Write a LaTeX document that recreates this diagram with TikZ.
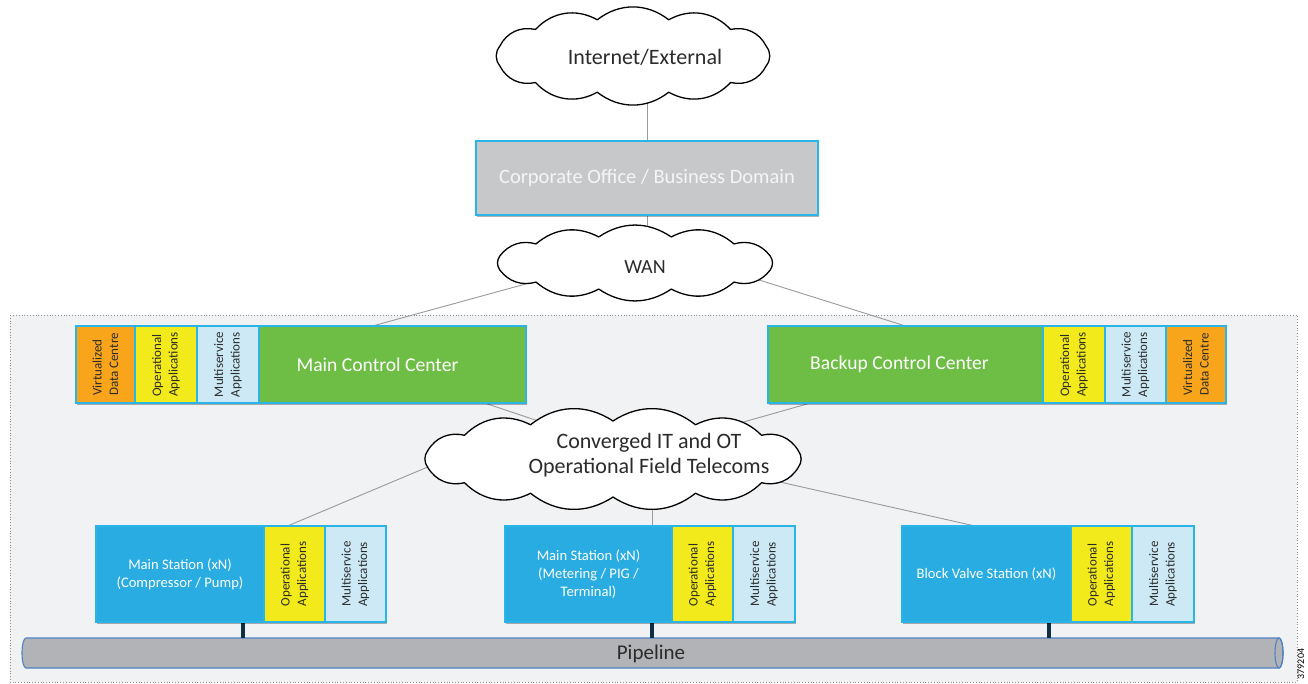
\documentclass[tikz,border=0pt]{standalone}
\usepackage{fontspec}
\setmainfont{Carlito}
\usetikzlibrary{shadows,calc}
\definecolor{bordercyan}{HTML}{2AB5E8}
\definecolor{corpgray}{HTML}{C7C8CA}
\definecolor{vdcorange}{HTML}{F8A51C}
\definecolor{opyellow}{HTML}{F2EA1A}
\definecolor{mslight}{HTML}{CCE9F5}
\definecolor{ccgreen}{HTML}{6EBE46}
\definecolor{stblue}{HTML}{29ACE2}
\definecolor{bgzone}{HTML}{F1F2F4}
\definecolor{pipegray}{HTML}{B2B3B6}
\definecolor{pipeedge}{HTML}{4F82C3}
\definecolor{linkgray}{HTML}{9A9A9A}
\definecolor{postnavy}{HTML}{0E2F44}
\definecolor{txtdark}{HTML}{2B2B2B}
\pgfdeclarelayer{bg}
\pgfdeclarelayer{links}
\pgfsetlayers{bg,links,main}
\tikzset{
  cell/.style={draw=bordercyan, line width=1.2pt, inner sep=0pt, outer sep=0pt, anchor=north west,
    drop shadow={shadow xshift=1.2pt, shadow yshift=-1.8pt, opacity=0.3, fill=black}},
  vtext/.style={rotate=90, align=left, inner sep=0pt, text=txtdark, font=\fontsize{13}{16.5}\selectfont},
  bigwhite/.style={text=white, font=\fontsize{19.6}{24}\selectfont},
  stwhite/.style={text=white, align=center, font=\fontsize{14.6}{18}\selectfont},
  cloudline/.style={draw=black, line width=1.3pt, fill=white, line join=round},
  cloudtext/.style={text=txtdark, align=center, font=\fontsize{22}{25}\selectfont},
  link/.style={draw=linkgray, line width=0.9pt},
  post/.style={draw=postnavy, line width=4.5pt}
}
\newcommand\vcell[5]{%
  \node[cell, fill=#2, minimum width=#4, minimum height=\cellh] (#1) at (#3) {};
  \node[vtext] (#1t) at (#1.center) {#5};}
% cloud: name, centre, x radius, y radius, bumps, bend
\newcommand\cloudat[6]{%
  \node[inner sep=0pt, outer sep=0pt, minimum width=#3*2, minimum height=#4*2] (#1) at (#2) {};
  \pgfmathsetmacro\cstep{360/#5}%
  \path[cloudline] ($(#1.center)+({\cstep/2}:#3pt and #4pt)$)
    \foreach \k in {1,...,#5} { to[bend right=#6] ($(#1.center)+({\cstep/2+\cstep*\k}:#3pt and #4pt)$) } -- cycle;
}
\begin{document}
\begin{tikzpicture}[x=1pt, y=-1pt]
\useasboundingbox (0,0) rectangle (1308,684);
% zone
\begin{pgfonlayer}{bg}
  \fill[white] (0,0) rectangle (1308,684);
  \draw[fill=bgzone, draw=black!45, dotted, line width=0.8pt] (10,315) rectangle (1297,682);
\end{pgfonlayer}

% clouds
\cloudat{inet}{633,56}{138}{37.5}{12}{38}
\node[cloudtext] (inett) at (645,57) {Internet/External};
\cloudat{wan}{635,263}{140}{27}{12}{34}
\node[cloudtext, font=\fontsize{20}{24}\selectfont] (want) at (645,267) {WAN};
\cloudat{conv}{613,459}{190}{38}{14}{36}
\node[cloudtext] (convt) at (649,455) {Converged IT and OT\\Operational Field Telecoms};

% corporate
\node[cell, fill=corpgray, minimum width=342, minimum height=74, text=white!96!black, font=\fontsize{20.5}{24}\selectfont, anchor=center] (corp) at (647,178) {Corporate Office / Business Domain};

% main control center group
\def\cellh{77}
\vcell{mvdc}{vdcorange}{76,326}{59}{Virtualized\\Data Centre}
\vcell{mop}{opyellow}{135,326}{62}{Operational\\Applications}
\vcell{mms}{mslight}{197,326}{62}{Multiservice\\Applications}
\node[cell, fill=ccgreen, minimum width=267, minimum height=77] (mcc) at (259,326) {};
\node[bigwhite] (mcct) at ($(mcc.center)+(-15,0)$) {Main Control Center};

% backup control center group
\node[cell, fill=ccgreen, minimum width=275, minimum height=77] (bcc) at (768,326) {};
\node[bigwhite] (bcct) at ($(bcc.center)+(-6,0)$) {Backup Control Center};
\vcell{bop}{opyellow}{1043,326}{62}{Operational\\Applications}
\vcell{bms}{mslight}{1105,326}{61}{Multiservice\\Applications}
\vcell{bvdc}{vdcorange}{1166,326}{60}{Virtualized\\Data Centre}

% stations
\def\cellh{96}
\node[cell, fill=stblue, minimum width=168, minimum height=96, stwhite] (stA) at (96,526) {Main Station (xN)\\(Compressor / Pump)};
\vcell{aop}{opyellow}{264,526}{61}{Operational\\Applications}
\vcell{ams}{mslight}{325,526}{61}{Multiservice\\Applications}

\node[cell, fill=stblue, minimum width=167, minimum height=96, stwhite] (stB) at (505,526) {Main Station (xN)\\(Metering / PIG /\\Terminal)};
\vcell{bop2}{opyellow}{672,526}{61}{Operational\\Applications}
\vcell{bms2}{mslight}{733,526}{62}{Multiservice\\Applications}

\node[cell, fill=stblue, minimum width=169, minimum height=96, stwhite] (stC) at (902,526) {Block Valve Station (xN)};
\vcell{cop}{opyellow}{1071,526}{61}{Operational\\Applications}
\vcell{cms}{mslight}{1132,526}{62}{Multiservice\\Applications}

% pipeline
\node[minimum width=1253, minimum height=30, inner sep=0pt, outer sep=0pt] (pipe) at (652.5,653) {};
\begin{pgfonlayer}{links}
  \path[fill=pipegray, draw=pipeedge, line width=1.1pt]
    (pipe.north west) -- (pipe.north east)
    arc[start angle=90, end angle=-90, x radius=4pt, y radius=15pt]
    -- (pipe.south west)
    arc[start angle=270, end angle=90, x radius=4pt, y radius=15pt] -- cycle;
  \draw[pipeedge, line width=1.1pt] (pipe.east) ellipse[x radius=4pt, y radius=15pt];
\end{pgfonlayer}
\node[text=txtdark, font=\fontsize{21}{24}\selectfont] (pipet) at (651,654) {Pipeline};

% links
\begin{pgfonlayer}{links}
  \draw[link] (inet.center -| corp.north) -- (corp.north);
  \draw[link] (corp.south) -- (corp.south |- wan.center);
  \draw[link] ([yshift=9pt]wan.center) -- ([xshift=-20pt]mcc.north);
  \draw[link] ([yshift=22pt]wan.center) -- (bcc.north);
  \draw[link] ([xshift=92pt]mcc.south) -- ([yshift=13pt]conv.center);
  \draw[link] ([xshift=-95pt]bcc.south) -- (conv.center);
  \draw[link] ([xshift=-133pt,yshift=14pt]conv.center) -- ([xshift=-7pt]aop.north);
  \draw[link] ([xshift=63.5pt]stB.north |- conv.center) -- ([xshift=63.5pt]stB.north);
  \draw[link] ([xshift=87pt,yshift=-5pt]conv.center) -- ([xshift=-11.5pt]stC.north);
  \draw[post] ([xshift=63pt]stA.south) -- ([xshift=63pt]stA.south |- pipe.north);
  \draw[post] ([xshift=63.5pt]stB.south) -- ([xshift=63.5pt]stB.south |- pipe.north);
  \draw[post] ([xshift=62.5pt]stC.south) -- ([xshift=62.5pt]stC.south |- pipe.north);
\end{pgfonlayer}

% figure number
\node[rotate=90, inner sep=0pt, text=black, font=\fontsize{10}{12}\selectfont] (fignum) at (1301,664) {379204};
\end{tikzpicture}
\end{document}
